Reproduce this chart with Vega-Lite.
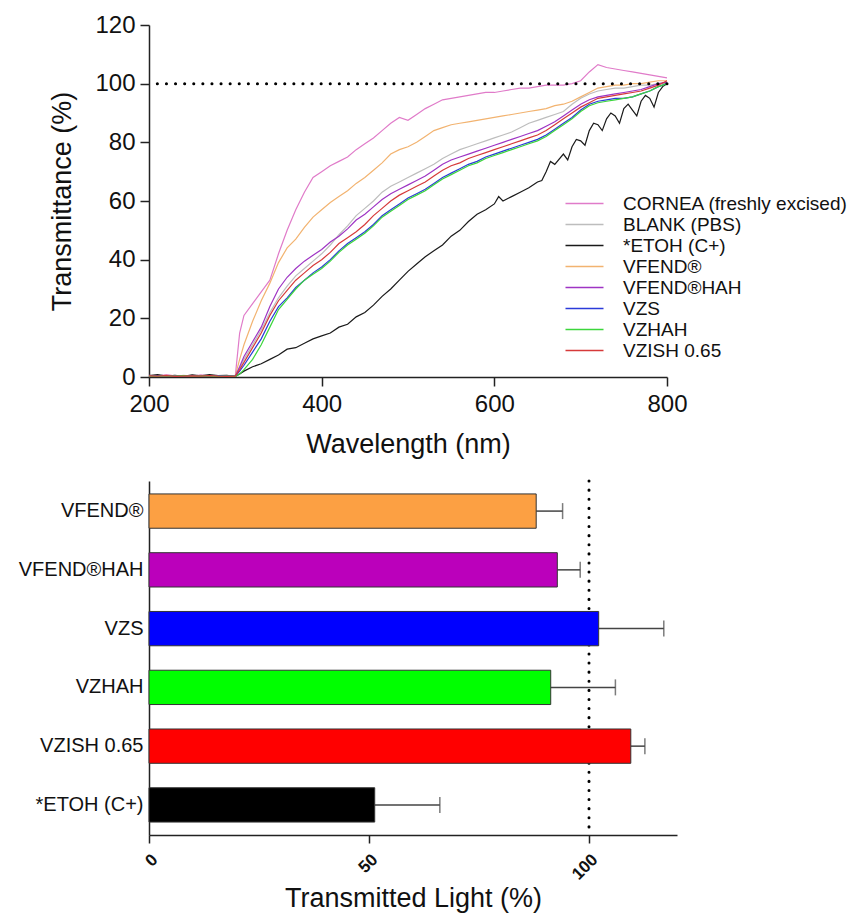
{
  "$schema": "https://vega.github.io/schema/vega-lite/v6.json",
  "background": "white",
  "padding": {"left": 18, "top": 13, "right": 5, "bottom": 5},
  "config": {
    "view": {"stroke": null},
    "font": "Liberation Sans",
    "axis": {"grid": false, "domainColor": "#222", "tickColor": "#222", "labelColor": "#111", "titleColor": "#111", "titleFontWeight": "normal", "domainWidth": 1.5, "tickWidth": 1.5},
    "concat": {"spacing": 22}
  },
  "resolve": {"scale": {"color": "independent"}, "legend": {"color": "independent"}},
  "vconcat": [
    {
      "width": 518,
      "height": 352,
      "layer": [
        {
          "data": {"values": [
            {"w":200,"c":0.6,"b":0.3,"e":0.5,"v":0.4,"h":0.3,"z":0.2,"g":0.3,"r":0.4},
            {"w":210,"c":0.3,"b":0.5,"e":0.8,"v":0.3,"h":0.4,"z":0.5,"g":0.2,"r":0.3},
            {"w":220,"c":0.8,"b":0.4,"e":0.3,"v":0.6,"h":0.2,"z":0.3,"g":0.4,"r":0.5},
            {"w":230,"c":0.4,"b":0.2,"e":0.6,"v":0.3,"h":0.5,"z":0.2,"g":0.3,"r":0.2},
            {"w":240,"c":0.5,"b":0.6,"e":0.2,"v":0.5,"h":0.3,"z":0.4,"g":0.5,"r":0.3},
            {"w":250,"c":0.2,"b":0.3,"e":0.7,"v":0.2,"h":0.4,"z":0.3,"g":0.2,"r":0.4},
            {"w":260,"c":0.7,"b":0.4,"e":0.4,"v":0.5,"h":0.2,"z":0.3,"g":0.4,"r":0.3},
            {"w":270,"c":0.4,"b":0.3,"e":0.8,"v":0.3,"h":0.5,"z":0.2,"g":0.3,"r":0.5},
            {"w":280,"c":0.3,"b":0.5,"e":0.5,"v":0.4,"h":0.3,"z":0.4,"g":0.2,"r":0.3},
            {"w":290,"c":0.5,"b":0.3,"e":0.6,"v":0.2,"h":0.4,"z":0.3,"g":0.3,"r":0.2},
            {"w":300,"c":0.5,"b":0.3,"e":0.2,"v":0.5,"h":0.3,"z":0.2,"g":0.2,"r":0.3},
            {"w":305,"c":15,"b":3,"e":1,"v":6,"h":3.5,"z":2,"g":1,"r":2.5},
            {"w":310,"c":21,"b":6,"e":2,"v":11,"h":7,"z":4,"g":2.5,"r":5},
            {"w":320,"c":25,"b":11,"e":3.5,"v":19,"h":12,"z":8.5,"g":6,"r":10},
            {"w":330,"c":29,"b":16,"e":4.5,"v":26,"h":17,"z":13,"g":11,"r":15},
            {"w":340,"c":33,"b":22,"e":6,"v":32,"h":24,"z":19,"g":17,"r":21},
            {"w":350,"c":42,"b":27,"e":7.5,"v":39,"h":30,"z":24,"g":23,"r":26},
            {"w":360,"c":50,"b":31,"e":9.5,"v":44,"h":34,"z":27,"g":26.5,"r":29.5},
            {"w":370,"c":57,"b":34.5,"e":10,"v":47,"h":37,"z":30.5,"g":30,"r":33},
            {"w":380,"c":63,"b":37,"e":11.5,"v":51,"h":39.5,"z":33,"g":33,"r":35.5},
            {"w":390,"c":68,"b":39.5,"e":13,"v":54.5,"h":41.5,"z":35.5,"g":35,"r":38},
            {"w":400,"c":70,"b":42,"e":14,"v":57,"h":43.5,"z":37.5,"g":37,"r":40},
            {"w":410,"c":72,"b":45,"e":15,"v":59.5,"h":46,"z":40,"g":39.5,"r":42.5},
            {"w":420,"c":73.5,"b":48.5,"e":17,"v":61.5,"h":48,"z":43,"g":42.5,"r":45.5},
            {"w":430,"c":75,"b":51.5,"e":18,"v":63.5,"h":50.5,"z":45.5,"g":45,"r":47.5},
            {"w":440,"c":77.5,"b":55,"e":20.5,"v":66,"h":53.5,"z":47.5,"g":47,"r":49.5},
            {"w":450,"c":79.5,"b":57.5,"e":22,"v":68,"h":55.5,"z":49.5,"g":49,"r":52},
            {"w":460,"c":81.5,"b":60,"e":24.5,"v":70.5,"h":58,"z":52,"g":51.5,"r":55},
            {"w":470,"c":84,"b":63,"e":27.5,"v":73,"h":60.5,"z":55,"g":54.5,"r":57.5},
            {"w":480,"c":86.5,"b":65,"e":30,"v":76,"h":62.5,"z":57,"g":56.5,"r":60},
            {"w":490,"c":88.5,"b":66.5,"e":33,"v":77.5,"h":64,"z":59,"g":58.5,"r":62},
            {"w":500,"c":87.5,"b":68,"e":36,"v":78.5,"h":65.5,"z":61,"g":60.5,"r":63.5},
            {"w":510,"c":89.5,"b":69.5,"e":38.5,"v":80,"h":67,"z":62.5,"g":62,"r":65},
            {"w":520,"c":91.5,"b":71,"e":41,"v":82,"h":68.5,"z":64,"g":63.5,"r":66.5},
            {"w":530,"c":93,"b":72.5,"e":43,"v":84,"h":70.5,"z":66,"g":65.5,"r":68.5},
            {"w":540,"c":94.5,"b":74.5,"e":45,"v":85,"h":72.5,"z":68,"g":67.5,"r":70.5},
            {"w":550,"c":95,"b":76,"e":48,"v":86,"h":74,"z":69.5,"g":69,"r":72},
            {"w":560,"c":95.5,"b":77.5,"e":50,"v":86.5,"h":75,"z":71,"g":70.5,"r":73},
            {"w":570,"c":96,"b":78.5,"e":53,"v":87,"h":76,"z":72.5,"g":72,"r":74.5},
            {"w":580,"c":96.5,"b":79.5,"e":55.5,"v":87.5,"h":77,"z":73.5,"g":73,"r":75.5},
            {"w":590,"c":97,"b":80.5,"e":57,"v":88,"h":78,"z":75,"g":74.5,"r":76.5},
            {"w":600,"c":97,"b":81.5,"e":59,"v":88.5,"h":79,"z":76,"g":75.5,"r":77.5},
            {"w":610,"c":97.5,"b":82.5,"e":60,"v":89,"h":80,"z":77,"g":76.5,"r":78.5},
            {"w":620,"c":98,"b":83.5,"e":61.5,"v":89.5,"h":81,"z":78,"g":77.5,"r":79.5},
            {"w":630,"c":98.5,"b":85,"e":63,"v":90,"h":82,"z":79,"g":78.5,"r":80.5},
            {"w":640,"c":98.5,"b":86.5,"e":64.5,"v":90.5,"h":83,"z":80,"g":79.5,"r":81.5},
            {"w":650,"c":99,"b":87.5,"e":66.5,"v":91,"h":84,"z":81,"g":80.5,"r":82.5},
            {"w":660,"c":99.5,"b":88.5,"e":70,"v":91.5,"h":85.5,"z":82.5,"g":82,"r":84},
            {"w":670,"c":99.5,"b":89.5,"e":72.5,"v":92.5,"h":87,"z":84.5,"g":84,"r":86},
            {"w":680,"c":99.5,"b":90.5,"e":76,"v":93,"h":89,"z":86.5,"g":86,"r":88},
            {"w":690,"c":100,"b":93,"e":78.5,"v":94,"h":91,"z":88.5,"g":88,"r":90},
            {"w":700,"c":101,"b":95,"e":80.5,"v":95.5,"h":93,"z":91,"g":90.5,"r":92},
            {"w":710,"c":104,"b":96.5,"e":84,"v":97,"h":94.5,"z":93,"g":92.5,"r":93.5},
            {"w":720,"c":106.5,"b":97.5,"e":86,"v":98.5,"h":95.5,"z":94,"g":93.5,"r":95},
            {"w":730,"c":105.5,"b":98,"e":88,"v":99,"h":96,"z":94.5,"g":94,"r":95.5},
            {"w":740,"c":105,"b":98.5,"e":89,"v":99.5,"h":96.5,"z":95,"g":94.5,"r":96},
            {"w":750,"c":104.5,"b":98.5,"e":91.5,"v":99.5,"h":97,"z":95,"g":95,"r":96.5},
            {"w":760,"c":104,"b":99,"e":91,"v":100,"h":97.5,"z":95.5,"g":95.5,"r":97},
            {"w":770,"c":103.5,"b":99.5,"e":94,"v":100,"h":98,"z":96.5,"g":96.5,"r":97.5},
            {"w":780,"c":103,"b":99.5,"e":95,"v":100.5,"h":99,"z":97.5,"g":97.5,"r":98.5},
            {"w":790,"c":102.5,"b":100,"e":97,"v":101,"h":100,"z":99,"g":99,"r":99.5},
            {"w":800,"c":102,"b":100,"e":100,"v":101,"h":100.5,"z":100,"g":100,"r":101},
            {"w":605,"e":61.5},{"w":655,"e":67},{"w":665,"e":73.5},{"w":685,"e":74},{"w":695,"e":81},
            {"w":705,"e":79},{"w":715,"e":86.5},{"w":725,"e":84},{"w":735,"e":90},{"w":745,"e":86.5},
            {"w":755,"e":93},{"w":765,"e":89},{"w":775,"e":96},{"w":785,"e":92},{"w":795,"e":99}
          ]},
          "transform": [
            {"fold": ["c", "b", "e", "v", "h", "z", "g", "r"], "as": ["s", "t"]},
            {"filter": "isValid(datum.t)"}
          ],
          "mark": {"type": "line", "strokeWidth": 1.2},
          "encoding": {
            "x": {"field": "w", "type": "quantitative", "sort": null,
              "scale": {"domain": [200, 800], "nice": false, "zero": false},
              "axis": {"values": [200, 400, 600, 800], "title": "Wavelength (nm)", "labelFontSize": 24, "titleFontSize": 27, "tickSize": 9, "labelPadding": 6, "titlePadding": 15, "labelFlush": false}},
            "y": {"field": "t", "type": "quantitative",
              "scale": {"domain": [0, 120], "nice": false},
              "axis": {"values": [0, 20, 40, 60, 80, 100, 120], "title": "Transmittance (%)", "labelFontSize": 24, "titleFontSize": 27, "tickSize": 9, "labelPadding": 5, "titlePadding": 18}},
            "color": {"field": "s", "type": "nominal",
              "scale": {"domain": ["c", "b", "e", "v", "h", "z", "g", "r"],
                "range": ["#E07BC9", "#BDBDBD", "#1A1A1A", "#F2B370", "#9E34C4", "#2B3BD9", "#3CD63C", "#D63A3A"]},
              "legend": {"orient": "none", "legendX": 425, "legendY": 168, "title": null, "symbolType": "M-2,0H2", "symbolSize": 361, "symbolStrokeWidth": 1.5, "labelFontSize": 19, "labelOffset": 28, "rowPadding": 0, "labelLimit": 400, "labelColor": "#111",
                "labelExpr": "datum.value == 'c' ? 'CORNEA (freshly excised)' : datum.value == 'b' ? 'BLANK (PBS)' : datum.value == 'e' ? '*ETOH (C+)' : datum.value == 'v' ? 'VFEND®' : datum.value == 'h' ? 'VFEND®HAH' : datum.value == 'z' ? 'VZS' : datum.value == 'g' ? 'VZHAH' : 'VZISH 0.65'"}}
          }
        },
        {
          "data": {"values": [{}]},
          "mark": {"type": "rule", "strokeDash": [0.1, 9], "strokeCap": "round", "strokeWidth": 3, "color": "#000"},
          "encoding": {"y": {"datum": 100}}
        }
      ]
    },
    {
      "width": 528,
      "height": 354,
      "data": {"values": [
        {"g": "VFEND®", "m": 88, "hi": 94},
        {"g": "VFEND®HAH", "m": 92.8, "hi": 98},
        {"g": "VZS", "m": 102.2, "hi": 117},
        {"g": "VZHAH", "m": 91.3, "hi": 106},
        {"g": "VZISH 0.65", "m": 109.5, "hi": 112.7},
        {"g": "*ETOH (C+)", "m": 51.3, "hi": 66.1}
      ]},
      "layer": [
        {
          "data": {"values": [{}]},
          "mark": {"type": "rule", "strokeDash": [0.1, 9], "strokeCap": "round", "strokeWidth": 3, "color": "#000"},
          "encoding": {"x": {"datum": 100}}
        },
        {
          "mark": {"type": "rule", "strokeWidth": 1.5, "color": "#444"},
          "encoding": {
            "y": {"field": "g", "type": "nominal", "sort": null},
            "x": {"field": "m", "type": "quantitative", "title": "Transmitted Light (%)"},
            "x2": {"field": "hi"}
          }
        },
        {
          "mark": {"type": "tick", "thickness": 1.5, "size": 16, "color": "#444"},
          "encoding": {
            "y": {"field": "g", "type": "nominal", "sort": null},
            "x": {"field": "hi", "type": "quantitative", "title": "Transmitted Light (%)"}
          }
        },
        {
          "mark": {"type": "bar", "stroke": "#333", "strokeWidth": 1},
          "encoding": {
            "y": {"field": "g", "type": "nominal", "sort": null,
              "scale": {"paddingInner": 0.416, "paddingOuter": 0.22},
              "axis": {"title": null, "ticks": false, "labelFontSize": 20, "labelPadding": 6, "labelLimit": 300}},
            "x": {"field": "m", "type": "quantitative", "title": "Transmitted Light (%)",
              "scale": {"domain": [0, 120], "nice": false},
              "axis": {"values": [0, 50, 100], "labelAngle": -45, "labelFontWeight": "bold", "labelFontSize": 17, "tickSize": 8, "labelPadding": 8, "titleFontSize": 27, "titlePadding": 3, "labelFlush": false}},
            "color": {"field": "g", "type": "nominal", "legend": null,
              "scale": {"domain": ["VFEND®", "VFEND®HAH", "VZS", "VZHAH", "VZISH 0.65", "*ETOH (C+)"],
                "range": ["#FCA043", "#BB00BB", "#0000FF", "#00FF00", "#FF0000", "#000000"]}}
          }
        }
      ]
    }
  ]
}
